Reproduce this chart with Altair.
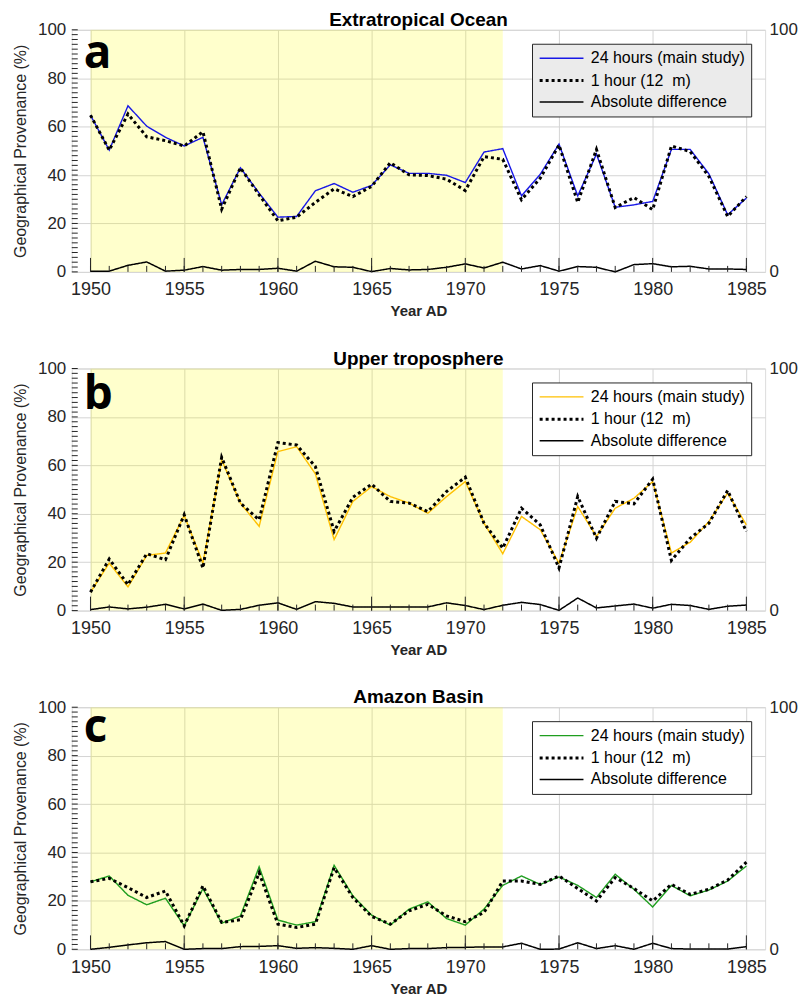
import altair as alt
import pandas as pd

# ---------------- data ----------------
years = list(range(1950, 1986))
panel_titles = ["Extratropical Ocean", "Upper troposphere", "Amazon Basin"]
panel_letters = ["a", "b", "c"]
series_names = ["24 hours (main study)", "1 hour (12\u00a0 m)", "Absolute difference"]
main_colors = ["#1717e6", "#ffc000", "#1f9e1f"]
legend_fills = ["#ebebeb", "#ffffff", "#ffffff"]

shade_start = [1950]
shade_end = [1972]
x_major = [1950, 1955, 1960, 1965, 1970, 1975, 1980, 1985]
y_major = [0, 20, 40, 60, 80, 100]
y_minor = list(range(0, 101, 2))
y_right = [0, 100]

ocean_24h = [64.7, 50.3, 68.6, 60.2, 55.6, 52.0, 55.6, 27.7, 43.0, 32.5,
             22.6, 22.9, 33.5, 36.5, 32.9, 35.7, 44.2, 40.7, 40.7, 39.9,
             36.9, 49.5, 50.9, 31.4, 40.3, 52.8, 31.4, 48.7, 26.7, 27.7,
             29.1, 50.6, 50.6, 40.5, 23.6, 30.5]
ocean_1h = [64.7, 50.3, 65.2, 55.8, 54.2, 52.0, 57.9, 25.9, 43.0, 31.8,
            21.1, 22.6, 28.7, 34.3, 31.1, 35.3, 45.1, 40.1, 39.8, 38.3,
            33.6, 47.6, 46.5, 29.8, 38.7, 52.4, 28.7, 50.6, 26.6, 30.7,
            25.7, 52.0, 49.7, 39.4, 22.9, 31.1]
ocean_diff = [0.3, 0.3, 2.7, 4.1, 0.3, 0.7, 2.2, 0.7, 1.0, 1.0,
              1.5, 0.3, 4.4, 2.1, 1.9, 0.1, 1.4, 0.8, 1.0, 1.9,
              3.3, 1.6, 4.0, 1.2, 2.6, 0.3, 2.2, 1.9, 0.0, 3.0,
              3.4, 2.1, 2.3, 1.2, 1.2, 1.0]

tropo_24h = [7.6, 19.6, 9.8, 22.8, 23.8, 39.3, 19.6, 62.2, 44.4, 34.8,
             65.7, 67.7, 56.5, 29.3, 45.1, 51.2, 47.1, 44.4, 40.2, 47.1,
             53.3, 36.1, 23.5, 38.9, 33.4, 19.6, 43.0, 30.6, 42.3, 46.4,
             53.3, 23.8, 28.2, 36.8, 48.5, 35.4]
tropo_1h = [7.6, 21.3, 10.7, 23.5, 21.0, 39.6, 17.6, 63.3, 44.4, 37.5,
            69.4, 68.4, 59.5, 32.7, 46.8, 52.2, 45.1, 44.4, 40.9, 49.2,
            55.1, 36.1, 25.8, 42.3, 35.4, 17.6, 47.1, 29.9, 45.1, 44.1,
            54.3, 20.7, 29.9, 36.1, 49.6, 32.7]
tropo_diff = [0.4, 1.5, 0.7, 1.4, 2.6, 0.7, 2.7, 0.1, 0.5, 2.2,
              3.2, 0.5, 3.7, 3.0, 1.5, 1.5, 1.5, 1.5, 1.5, 3.2,
              2.1, 0.4, 2.2, 3.4, 2.5, 0.1, 5.2, 1.1, 1.9, 2.7,
              1.0, 2.6, 2.1, 0.5, 1.8, 2.3]

amazon_24h = [27.9, 30.3, 22.3, 18.4, 21.1, 9.7, 25.1, 10.8, 13.8, 34.1,
              12.1, 10.0, 11.4, 34.7, 22.1, 14.1, 10.0, 16.6, 19.6, 12.7,
              10.0, 16.6, 26.4, 30.3, 26.8, 29.9, 26.4, 21.4, 31.0, 24.8,
              17.5, 26.4, 22.1, 24.5, 28.2, 34.4]
amazon_1h = [27.9, 29.3, 25.5, 21.4, 24.1, 9.7, 26.2, 11.1, 12.2, 31.6,
             10.4, 9.0, 10.4, 33.7, 21.4, 13.6, 10.4, 15.9, 18.6, 13.8,
             11.4, 15.2, 28.2, 28.2, 26.8, 30.3, 25.1, 20.0, 29.6, 25.1,
             20.0, 26.8, 22.7, 24.8, 28.6, 36.0]
amazon_diff = [0.0, 0.8, 1.8, 2.7, 3.2, 0.0, 0.3, 0.3, 1.1, 1.2,
               1.5, 0.4, 0.7, 0.4, 0.0, 1.5, 0.0, 0.3, 0.3, 0.7,
               0.8, 1.0, 1.0, 2.5, 0.0, 0.1, 2.7, 0.3, 1.5, 0.0,
               2.5, 0.3, 0.1, 0.1, 0.1, 1.1]

# ---------------- styling ----------------
W, H = 696, 243
FONT = "Liberation Sans"
AX = "#262626"
letter_baselines = [38, 41, 35]

xscale = alt.Scale(domain=[1949, 1986], nice=False, zero=False)
yscale = alt.Scale(domain=[0, 100], nice=False)

x_axis = alt.Axis(values=x_major, format="d", grid=True, gridColor="#d4d4d4",
                  ticks=False, domain=False, labelFont=FONT, labelFontSize=18,
                  labelColor=AX, labelPadding=9, title="Year AD",
                  titleFont=FONT, titleFontSize=15, titleFontWeight="bold",
                  titleColor=AX, titlePadding=5, labelFlush=False)


def panel(i, s24, s1, sdiff):
    df = pd.DataFrame({
        "year": years * 3,
        "value": s24 + s1 + sdiff,
        "series": [n for n in series_names for _ in years],
        "order": [k for k in range(3) for _ in years],
    })
    leg = alt.Legend(
        orient="top-right", offset=14, padding=6, title=None,
        fillColor=legend_fills[i], strokeColor=AX,
        labelFont=FONT, labelFontSize=16, labelColor="#000000",
        symbolType="M-1,0H5", symbolSize=215, labelOffset=35,
        rowPadding=5, cornerRadius=0,
    )
    shade = alt.Chart(pd.DataFrame({"x0": shade_start, "x1": shade_end})).mark_rect(
        color="#ffff00", opacity=0.2
    ).encode(
        x=alt.X("x0:Q", scale=xscale, axis=x_axis),
        x2="x1:Q",
        y=alt.value(0),
        y2=alt.value(H),
    )
    lines = alt.Chart(df).mark_line(strokeCap="butt").encode(
        x=alt.X("year:Q", scale=xscale, axis=x_axis),
        y=alt.Y("value:Q", scale=yscale,
                axis=alt.Axis(values=y_major, grid=True, gridColor="#d4d4d4", ticks=False,
                              domain=False, labelFont=FONT, labelFontSize=17, labelColor=AX,
                              labelPadding=6, title="Geographical Provenance (%)",
                              titleFont=FONT, titleFontSize=16, titleFontWeight="normal",
                              titleColor=AX, titlePadding=9)),
        color=alt.Color("series:N", scale=alt.Scale(domain=series_names,
                                                    range=[main_colors[i], "#000000", "#000000"]),
                        legend=leg),
        strokeDash=alt.StrokeDash("series:N", scale=alt.Scale(domain=series_names,
                                                              range=[[1, 0], [3, 3], [1, 0]]),
                                  legend=leg),
        strokeWidth=alt.StrokeWidth("series:N", scale=alt.Scale(type="ordinal", domain=series_names,
                                                                range=[1.4, 3, 1.5]),
                                    legend=leg),
        order="order:Q",
        detail="series:N",
    )
    xt_minor = alt.Chart(pd.DataFrame({"year": years})).mark_rule(color=AX, strokeWidth=1).encode(
        x=alt.X("year:Q", scale=xscale, axis=x_axis),
        y=alt.value(H), y2=alt.value(H - 6),
    )
    xt_major = alt.Chart(pd.DataFrame({"year": x_major})).mark_rule(color=AX, strokeWidth=1).encode(
        x=alt.X("year:Q", scale=xscale, axis=x_axis),
        y=alt.value(H), y2=alt.value(H - 14),
    )
    yt = alt.Chart(pd.DataFrame({"v": y_minor})).mark_rule(color=AX, strokeWidth=1).encode(
        y=alt.Y("v:Q", scale=yscale,
                axis=alt.Axis(orient="right", values=y_right, grid=False, ticks=False,
                              domain=False, labelFont=FONT, labelFontSize=17, labelColor=AX,
                              labelPadding=4, title=None)),
        x=alt.value(0), x2=alt.value(6),
    )
    letter = alt.Chart(pd.DataFrame({"t": [panel_letters[i]]})).mark_text(
        font="Open Sans", fontSize=46, fontWeight="bold", align="left",
        baseline="alphabetic", color="#000000"
    ).encode(text="t:N", x=alt.value(12), y=alt.value(letter_baselines[i]))

    return alt.layer(shade, lines, xt_minor, xt_major, yt, letter).resolve_axis(
        y="independent"
    ).resolve_scale(
        color="independent", strokeDash="independent", strokeWidth="independent"
    ).properties(
        width=W, height=H,
        title=alt.TitleParams(panel_titles[i], font=FONT, fontSize=19, fontWeight="bold",
                              color="#000000", offset=-9, anchor="middle"),
    )


chart = alt.vconcat(
    panel(0, ocean_24h, ocean_1h, ocean_diff),
    panel(1, tropo_24h, tropo_1h, tropo_diff),
    panel(2, amazon_24h, amazon_1h, amazon_diff),
    spacing=29,
).resolve_scale(
    color="independent", strokeDash="independent", strokeWidth="independent"
).resolve_legend(
    color="independent", strokeDash="independent", strokeWidth="independent"
).properties(
    padding={"left": 4, "top": 0, "right": 0, "bottom": 0}
).configure_view(
    stroke=AX, strokeWidth=1.3
).configure(
    background="white"
)

chart.save("out.html", embed_options={"renderer": "svg", "actions": False})
